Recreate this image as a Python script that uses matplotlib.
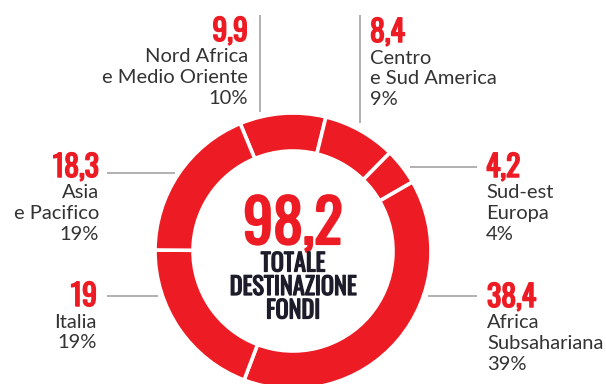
import matplotlib
matplotlib.use("Agg")
import matplotlib.pyplot as plt
import matplotlib.patheffects as pe

# Destinazione dei fondi (milioni), in senso orario dall'alto
regions = ["Nord Africa\ne Medio Oriente", "Centro\ne Sud America", "Sud-est\nEuropa",
           "Africa\nSubsahariana", "Italia", "Asia\ne Pacifico"]
values = [9.9, 8.4, 4.2, 38.4, 19.0, 18.3]
total_caption = ["TOTALE", "DESTINAZIONE", "FONDI"]

RED = "#ED1C24"
GREY_LINE = "#a3a3a3"
TXT = "#333333"
DARK = "#1c1c2a"
NUM_FONT = ["Oswald", "Roboto Condensed", "Archivo Narrow", "DejaVu Sans"]
LBL_FONT = ["Lato", "DejaVu Sans"]

W, H = 606, 384
fig = plt.figure(figsize=(W / 100, H / 100), dpi=100)
ax = fig.add_axes([0, 0, 1, 1])

def Y(py):
    return H - py

def heavy(color, lw):
    return [pe.withStroke(linewidth=lw, foreground=color)]

cx, cy, R = 293, Y(251), 138
ax.pie(values, colors=[RED] * len(values), startangle=112.5, counterclock=False,
       center=(cx, cy), radius=R, frame=True,
       wedgeprops=dict(width=38, edgecolor="white", linewidth=2.6))

ax.set_xlim(0, W)
ax.set_ylim(0, H)
ax.set_aspect("equal")
ax.axis("off")

def fmt(v):
    return f"{v:g}".replace(".", ",")

total = sum(values)
pcts = [f"{round(v / total * 100):d}%" for v in values]

# label anchor: x, number baseline (px), alignment, leader line ((x0,y0),(x1,y1))
layout = [
    (248, 41, "right", ((260, 15), (260, 112))),
    (370, 42, "left", ((360, 15), (360, 123))),
    (486, 177, "left", ((410, 167), (477, 167))),
    (487, 307, "left", ((428, 296), (477, 296))),
    (97, 306, "right", ((107, 296), (158, 296))),
    (99, 177, "right", ((107, 173), (175, 173))),
]

for name, v, pct, (x, yb, ha, line) in zip(regions, values, pcts, layout):
    (x0, y0), (x1, y1) = line
    ax.plot([x0, x1], [Y(y0), Y(y1)], color=GREY_LINE, lw=1.2, solid_capstyle="butt")
    ax.text(x, Y(yb), fmt(v), ha=ha, va="baseline", color=RED,
            fontsize=21.5, fontweight="bold", family=NUM_FONT,
            path_effects=heavy(RED, 1.1))
    lines = name.split("\n") + [pct]
    for i, ln in enumerate(lines):
        ax.text(x, Y(yb + 21.5 + 20.8 * i), ln, ha=ha, va="baseline", color=TXT,
                fontsize=14.5, family=LBL_FONT)

ax.text(cx, Y(244), fmt(round(total, 1)), ha="center", va="baseline", color=RED,
        fontsize=43, fontweight="bold", family=NUM_FONT,
        path_effects=heavy(RED, 1.6))
for i, ln in enumerate(total_caption):
    ax.text(cx, Y(271.5 + 23.5 * i), ln, ha="center", va="baseline", color=DARK,
            fontsize=17.5, fontweight="bold", family=NUM_FONT,
            path_effects=heavy(DARK, 0.9))

fig.savefig("out.png", dpi=100)
